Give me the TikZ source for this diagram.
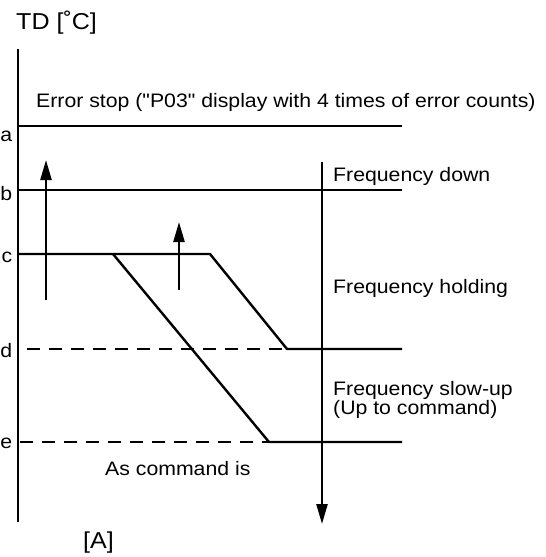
\documentclass[tikz,border=0pt]{standalone}
\usepackage{fontspec}
\setmainfont[FakeStretch=1.09]{Liberation Sans}
\newfontfamily\plainq[FakeStretch=1.09]{Liberation Sans}
\usetikzlibrary{arrows.meta}
\begin{document}
\begin{tikzpicture}[x=1pt,y=-1pt,
  ln/.style={line width=2.4pt},
  dsh/.style={line width=2.4pt,dash pattern=on 13pt off 9pt},
  arr/.style={line width=2.4pt,-{Triangle[length=20pt,width=11pt]}},
  lbl/.style={font=\fontsize{19.5}{19}\selectfont,inner sep=0pt,anchor=base west},
  lvl/.style={font=\fontsize{19.5}{20}\selectfont,inner sep=0pt,anchor=base east}]
\useasboundingbox (0,0) rectangle (546,557);
% axis
\coordinate (ax0) at (18,49);
\coordinate (ax1) at (18,522);
\draw[ln] (ax0) -- (ax1);
\node[lbl,font=\fontsize{23}{23}\selectfont] (td) at (16,29) {TD [˚C]};
% levels
\coordinate (a0) at (18,126); \coordinate (a1) at (402,126);
\coordinate (b0) at (18,190); \coordinate (b1) at (402,190);
\coordinate (c0) at (18,254); \coordinate (c1) at (210,254); \coordinate (c2) at (113,254);
\coordinate (d0) at (27,349); \coordinate (d1) at (287,349); \coordinate (d2) at (402,349);
\coordinate (e0) at (20,442); \coordinate (e1) at (269,442); \coordinate (e2) at (402,442);
\draw[ln] (a0) -- (a1);
\draw[ln] (b0) -- (b1);
\draw[ln] (c0) -- (c1) -- (d1) -- (d2);
\draw[dsh] (d0) -- (d1);
\draw[ln] (c2) -- (e1) -- (e2);
\draw[dsh] (e0) -- (e1);
\node[lvl] (la) at (12.5,141) {a};
\node[lvl] (lb) at (12.5,200) {b};
\node[lvl] (lc) at (12.5,262) {c};
\node[lvl] (ld) at (12.5,357) {d};
\node[lvl] (le) at (12.5,448) {e};
% arrows
\coordinate (p0) at (46,300); \coordinate (p1) at (46,160);
\draw[arr] (p0) -- (p1);
\coordinate (q0) at (179,290); \coordinate (q1) at (179,222);
\draw[arr] (q0) -- (q1);
\coordinate (r0) at (322,162); \coordinate (r1) at (322,524);
\draw[arr] (r0) -- (r1);
% texts
\node[lbl] (err) at (36,107.3) {Error stop ({\plainq"}P03{\plainq"} display with 4 times of error counts)};
\node[lbl] (fd) at (333,181.7) {Frequency down};
\node[lbl] (fh) at (333,293.3) {Frequency holding};
\node[lbl] (fs) at (333,395.5) {Frequency slow-up};
\node[lbl] (fs2) at (333,414) {(Up to command)};
\node[lbl] (ac) at (105,475.7) {As command is};
\node[lbl,font=\fontsize{23}{23}\selectfont] (A) at (83,548) {[A]};
\end{tikzpicture}
\end{document}
